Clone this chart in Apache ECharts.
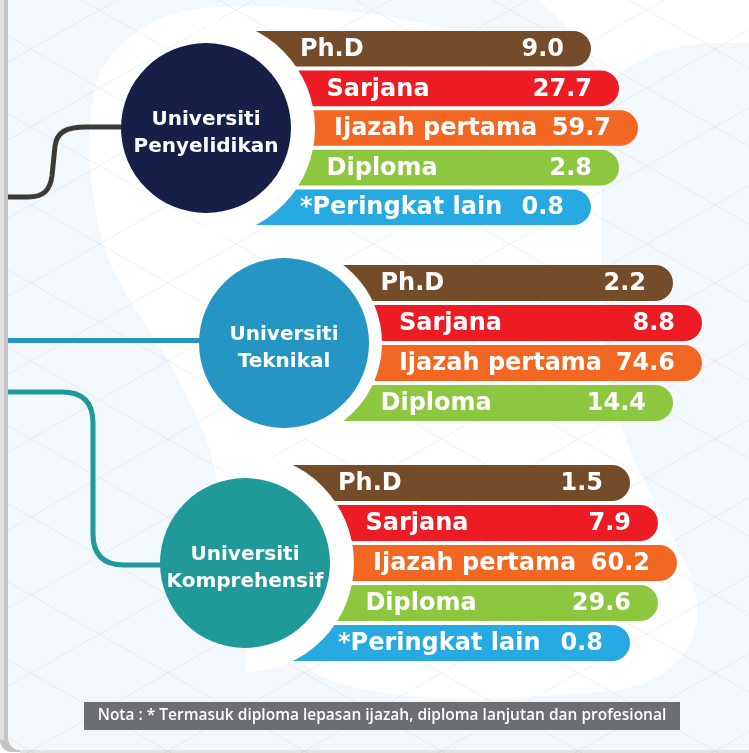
<!DOCTYPE html>
<html>
<head>
<meta charset="utf-8">
<script src="https://cdn.jsdelivr.net/npm/echarts@6/dist/echarts.min.js"></script>
<style>
html, body { margin: 0; padding: 0; background: #fff; }
#chart { width: 749px; height: 753px; }
</style>
</head>
<body>
<div id="chart"></div>
<script>
// --- data ---
const universities = ["Universiti\nPenyelidikan", "Universiti\nTeknikal", "Universiti\nKomprehensif"];

const levelsPenyelidikan = ["Ph.D", "Sarjana", "Ijazah pertama", "Diploma", "*Peringkat lain"];
const valuesPenyelidikan = [9.0, 27.7, 59.7, 2.8, 0.8];

const levelsTeknikal = ["Ph.D", "Sarjana", "Ijazah pertama", "Diploma"];
const valuesTeknikal = [2.2, 8.8, 74.6, 14.4];

const levelsKomprehensif = ["Ph.D", "Sarjana", "Ijazah pertama", "Diploma", "*Peringkat lain"];
const valuesKomprehensif = [1.5, 7.9, 60.2, 29.6, 0.8];

const noteText = "Nota : * Termasuk diploma lepasan ijazah, diploma lanjutan dan profesional";

// --- styling / layout ---
const levelColors = {
    "Ph.D": "#754c29",
    "Sarjana": "#ed1c24",
    "Ijazah pertama": "#f26722",
    "Diploma": "#8dc63f",
    "*Peringkat lain": "#27aae1"
};

// bar reach (right end, from circle centre) by distance from middle bar
const reachProfile = [432, 418, 413, 389, 385];

const groups = [
    { name: universities[0], levels: levelsPenyelidikan, values: valuesPenyelidikan,
      top: 29, band: 39.6, cx: 206, mask: 109, color: "#151f48" },
    { name: universities[1], levels: levelsTeknikal, values: valuesTeknikal,
      top: 263, band: 40, cx: 284, mask: 98, color: "#2596c4" },
    { name: universities[2], levels: levelsKomprehensif, values: valuesKomprehensif,
      top: 463, band: 40, cx: 245, mask: 109, color: "#1f9a98" }
];

const barFont = "bold 24px 'DejaVu Sans'";
const circleFont = "bold 20px 'DejaVu Sans'";
const circleR = 85;

var chart = echarts.init(document.getElementById('chart'));

const grids = [], xAxes = [], yAxes = [], series = [];

groups.forEach((g, i) => {
    grids.push({ left: 0, right: 0, top: g.top, height: g.band * g.levels.length });
    xAxes.push({ gridIndex: i, type: "value", min: 0, max: 749, show: false });
    yAxes.push({ gridIndex: i, type: "category", data: g.levels, inverse: true, show: false });

    // bars
    series.push({
        type: "custom",
        xAxisIndex: i,
        yAxisIndex: i,
        z: 2,
        silent: true,
        data: g.values.map((v, k) => [v, g.levels[k]]),
        renderItem: function (params, api) {
            const k = api.value(1);
            const yc = api.coord([0, k])[1];
            const h = api.size([0, 1])[1] * 0.9;
            const cs = params.coordSys;
            const cy = cs.y + cs.height / 2;
            const n = g.levels.length;
            const o = Math.abs(k - (n - 1) / 2);
            const xEnd = g.cx + reachProfile[Math.round(o * 2)];
            const dy = yc - cy;
            const edge = g.cx + Math.sqrt(Math.max(0, g.mask * g.mask - dy * dy));
            const name = g.levels[k];
            return {
                type: "group",
                children: [
                    {
                        type: "rect",
                        shape: { x: g.cx, y: yc - h / 2, width: xEnd - g.cx, height: h, r: [0, h / 2, h / 2, 0] },
                        style: { fill: levelColors[name] }
                    },
                    {
                        type: "text",
                        style: { text: name, x: edge + 19, y: yc + 1, fill: "#fff", font: barFont,
                                 align: "left", verticalAlign: "middle" }
                    },
                    {
                        type: "text",
                        style: { text: g.values[params.dataIndex].toFixed(1), x: xEnd - 27, y: yc + 1,
                                 fill: "#fff", font: barFont, align: "right", verticalAlign: "middle" }
                    }
                ]
            };
        }
    });

    // university circle with white cut-out on its right side
    series.push({
        type: "custom",
        xAxisIndex: i,
        yAxisIndex: i,
        z: 4,
        silent: true,
        data: [[0, g.levels[0]]],
        renderItem: function (params, api) {
            const cs = params.coordSys;
            const cy = cs.y + cs.height / 2;
            return {
                type: "group",
                children: [
                    {
                        type: "sector",
                        shape: { cx: g.cx, cy: cy, r: g.mask, r0: 0, startAngle: -Math.PI / 2, endAngle: Math.PI / 2 },
                        style: { fill: "#ffffff" }
                    },
                    {
                        type: "circle",
                        shape: { cx: g.cx, cy: cy, r: circleR },
                        style: { fill: g.color }
                    },
                    {
                        type: "text",
                        style: { text: g.name, x: g.cx, y: cy + 5, fill: "#fff", font: circleFont,
                                 lineHeight: 27, align: "center", verticalAlign: "middle" }
                    }
                ]
            };
        }
    });
});

// background: card, white blobs and a faint lattice
const bgChildren = [
    { type: "rect", z2: 1, shape: { x: 0, y: -20, width: 770, height: 772, r: 12 },
      style: { fill: "#c4c4c4" } },
    { type: "rect", z2: 2, shape: { x: 0, y: -20, width: 4, height: 760 },
      style: { fill: "#dedede" } },
    { type: "rect", z2: 2, shape: { x: 20, y: 749, width: 760, height: 4 },
      style: { fill: "#e2e2e2" } },
    { type: "rect", z2: 3, shape: { x: 8, y: -20, width: 770, height: 770, r: 12 },
      style: { fill: "#f3f8fc" } },
    { type: "path", z2: 4,
      shape: { pathData: "M 101 70 C 130 25 170 8 220 7 C 300 5 390 12 440 28 C 520 50 590 70 605 100 C 600 180 596 300 615 410 C 640 490 705 570 697 620 C 690 665 650 690 600 692 C 500 700 400 705 330 680 C 270 655 235 560 210 450 C 180 360 120 300 105 250 C 90 200 80 120 101 70 Z" },
      style: { fill: "#ffffff" } },
    { type: "path", z2: 4,
      shape: { pathData: "M 537 0 L 749 0 L 749 43 L 710 43 C 665 45 628 62 608 86 C 590 55 570 25 537 0 Z" },
      style: { fill: "#ffffff" } }
];
for (let k = -6; k < 16; k++) {
    const c1 = -280.6 + 78 * k;
    bgChildren.push({ type: "line", z2: 5,
        shape: { x1: 8, y1: c1 + 0.57 * 8, x2: 749, y2: c1 + 0.57 * 749 },
        style: { stroke: "rgba(110,125,140,0.11)", lineWidth: 1 } });
    const c2 = 534.6 + 78 * (k - 6);
    bgChildren.push({ type: "line", z2: 5,
        shape: { x1: 8, y1: c2 - 0.57 * 8, x2: 749, y2: c2 - 0.57 * 749 },
        style: { stroke: "rgba(110,125,140,0.11)", lineWidth: 1 } });
}

series.push({
    type: "custom",
    coordinateSystem: "none",
    z: 0,
    silent: true,
    data: [[0]],
    renderItem: function () {
        return { type: "group", children: bgChildren };
    }
});

// connectors from the left edge to each circle
series.push({
    type: "custom",
    coordinateSystem: "none",
    z: 3,
    silent: true,
    data: [[0]],
    renderItem: function () {
        return {
            type: "group",
            children: [
                { type: "path",
                  shape: { pathData: "M 8 197 L 28 197 C 44 197 50 190 52 176 L 55 146 C 57 132 66 127 86 127 L 130 127" },
                  style: { stroke: "#3d3a36", lineWidth: 5, fill: null } },
                { type: "path",
                  shape: { pathData: "M 8 340.5 L 205 340.5" },
                  style: { stroke: "#2596c4", lineWidth: 5, fill: null } },
                { type: "path",
                  shape: { pathData: "M 8 392 L 62 392 Q 93 392 93 423 L 93 534 Q 93 565 124 565 L 170 565" },
                  style: { stroke: "#1f9a98", lineWidth: 5, fill: null } }
            ]
        };
    }
});

chart.setOption({
    animation: false,
    backgroundColor: "#ffffff",
    grid: grids,
    xAxis: xAxes,
    yAxis: yAxes,
    series: series,
    graphic: [
        { type: "rect", z: 10, silent: true, shape: { x: 84, y: 702, width: 596, height: 28 },
          style: { fill: "#6d6e71" } },
        { type: "text", z: 11, silent: true,
          style: { text: noteText, x: 382, y: 716, fill: "#fff", font: "600 15.5px 'Open Sans'",
                   align: "center", verticalAlign: "middle" } }
    ]
});

window.addEventListener("resize", () => {
    if (chart) chart.resize();
});
</script>
</body>
</html>
